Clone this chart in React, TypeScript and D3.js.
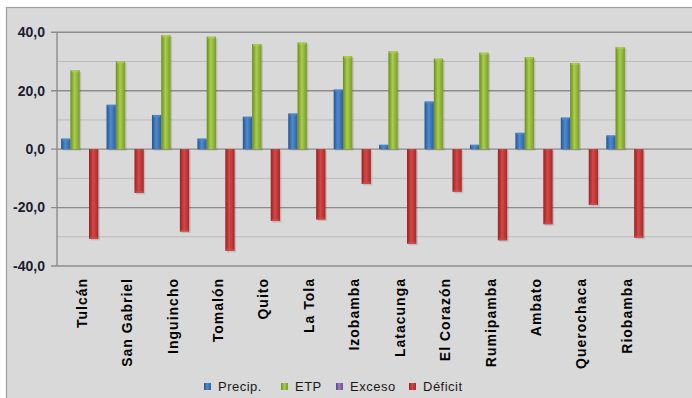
import React from "react";
import * as d3 from "d3";

const categories = ["Tulcán", "San Gabriel", "Inguincho", "Tomalón", "Quito", "La Tola", "Izobamba", "Latacunga", "El Corazón", "Rumipamba", "Ambato", "Querochaca", "Riobamba", ""];
const precip = [3.6, 15.2, 11.7, 3.6, 11.1, 12.2, 20.4, 1.5, 16.3, 1.5, 5.6, 10.8, 4.7, 0];
const etp = [27.0, 30.0, 39.0, 38.5, 36.0, 36.5, 31.8, 33.5, 31.0, 33.0, 31.5, 29.5, 34.9, 0];
const exceso = [0, 0, 0, 0, 0, 0, 0, 0, 0, 0, 0, 0, 0, 0];
const deficit = [-30.7, -15.0, -28.2, -34.8, -24.6, -24.1, -11.9, -32.4, -14.6, -31.2, -25.7, -19.1, -30.3, 0];
const seriesNames = ["Precip.", "ETP", "Exceso", "Déficit"];
const seriesValues = [precip, etp, exceso, deficit];
const yTicks = [-40, -20, 0, 20, 40];
const yMinor = [-30, -10, 10, 30];

const colors = [
  { dark: "#24548f", mid: "#4f8ad0", light: "#2a5fa3", legend: "#4a7fc4" },
  { dark: "#6a8a22", mid: "#a9cf48", light: "#799b2b", legend: "#9bbb59" },
  { dark: "#5b4380", mid: "#9a7ec0", light: "#66508e", legend: "#8064a2" },
  { dark: "#962222", mid: "#d84646", light: "#a52a2a", legend: "#c0504d" },
];

export default function App() {
  const W = 692, H = 398;
  const left = 57, right = 693, top = 32.3, bottom = 266;
  const y = d3.scaleLinear().domain([-40, 40]).range([bottom, top]);
  const x0 = d3.scaleBand<string>().domain(categories.map((c, i) => String(i))).range([left, right]).paddingInner(0).paddingOuter(0);
  const x1 = d3.scaleBand<string>().domain(seriesNames).range([0, x0.bandwidth()]).paddingInner(0).paddingOuter(0.44);
  const fmt = (v: number) => d3.format(".1f")(v).replace(".", ",").replace("−", "-");

  const legendX = [204, 281, 336, 409];

  return (
    <svg width={W} height={H} style={{ position: "absolute", left: 0, top: 0, fontFamily: "'Liberation Sans', Arial, sans-serif" }}>
      <defs>
        {colors.map((c, i) => (
          <linearGradient key={i} id={`g${i}`} x1="0" x2="1" y1="0" y2="0">
            <stop offset="0" stopColor={c.dark} />
            <stop offset="0.45" stopColor={c.mid} />
            <stop offset="1" stopColor={c.light} />
          </linearGradient>
        ))}
      </defs>
      <rect x={0} y={0} width={W} height={H} fill="#ffffff" />
      <rect x={6.5} y={7.5} width={W} height={H} fill="#d9d9d9" stroke="#a0a0a0" strokeWidth={1.2} />
      {yMinor.map((t) => (
        <line key={"m" + t} x1={left} x2={W} y1={y(t)} y2={y(t)} stroke="#bcbcbc" strokeWidth={1} />
      ))}
      {yTicks.map((t) => (
        <g key={"t" + t}>
          <line x1={left - 6} x2={W} y1={y(t)} y2={y(t)} stroke="#8c8c8c" strokeWidth={1.4} />
          <text x={45} y={y(t)} dy="0.35em" textAnchor="end" fontSize={14} fontWeight="bold" fill="#1c1c30">{fmt(t)}</text>
        </g>
      ))}
      <line x1={left} x2={left} y1={top} y2={bottom} stroke="#8c8c8c" strokeWidth={1.4} />
      {categories.map((c, ci) => (
        <g key={"c" + ci} transform={`translate(${x0(String(ci))},0)`}>
          {seriesValues.map((vals, si) => {
            const v = vals[ci];
            if (!v) return null;
            const bx = x1(seriesNames[si])!;
            const bw = x1.bandwidth();
            const y0 = y(0), yv = y(v);
            const ry = Math.min(y0, yv), rh = Math.abs(yv - y0);
            return (
              <g key={si}>
                <rect x={bx + 1.5} y={ry + 1.5} width={bw} height={rh} fill="#000" opacity={0.12} />
                <rect x={bx} y={ry} width={bw} height={rh} fill={`url(#g${si})`} />
                <rect x={bx + 1} y={v > 0 ? ry : ry + rh - 2} width={bw - 2} height={2} fill={colors[si].mid} opacity={0.8} />
              </g>
            );
          })}
          {c && (
            <text transform={`translate(${x0.bandwidth() / 2 + 7},278) rotate(-90)`} textAnchor="end" fontSize={14} fontWeight="bold" letterSpacing={1} fill="#000">{c}</text>
          )}
        </g>
      ))}
      {seriesNames.map((s, i) => (
        <g key={"l" + i} transform={`translate(${legendX[i]},383)`}>
          <rect x={0} y={0} width={7} height={7} fill={`url(#g${i})`} />
          <text x={14} y={3.5} dy="0.36em" fontSize={13} letterSpacing={0.5} fill="#1a1a1a">{s}</text>
        </g>
      ))}
    </svg>
  );
}
